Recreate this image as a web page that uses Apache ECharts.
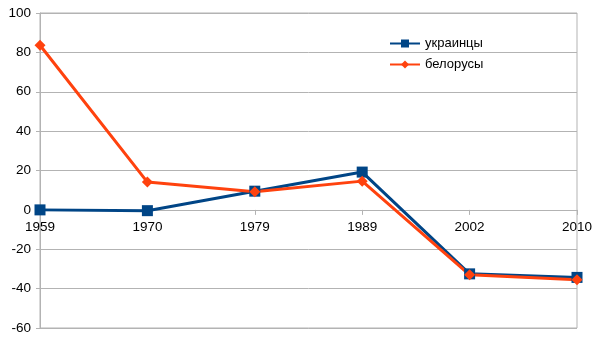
<!DOCTYPE html>
<html><head><meta charset="utf-8">
<script src="https://cdn.jsdelivr.net/npm/echarts@6/dist/echarts.min.js"></script>
<style>html,body{margin:0;padding:0;background:#fff}#c{width:605px;height:340px}</style>
</head><body><div id="c"></div>
<script>
const categories = ['1959','1970','1979','1989','2002','2010'];
const ukrainians = [0, -0.4, 9.5, 19.2, -32.5, -34.3];
const belarusians = [83.6, 14.1, 9.2, 14.6, -33.0, -35.5];
const seriesNames = ['украинцы','белорусы'];
const yMin = -60, yMax = 100, yStep = 20;

const gridTop = 13, gridBottom = 12, chartH = 340;
const plotH = chartH - gridTop - gridBottom;
const zeroOffset = -plotH * (0 - yMin) / (yMax - yMin);

const chart = echarts.init(document.getElementById('c'));
chart.setOption({
  animation: false,
  backgroundColor: '#fff',
  textStyle: {fontFamily: 'Liberation Sans'},
  grid: {left: 40, right: 28, top: gridTop, bottom: gridBottom, outerBoundsMode: 'none', containLabel: false,
         show: true, borderColor: '#b3b3b3', borderWidth: 1, backgroundColor: 'transparent'},
  legend: {
    orient: 'vertical', left: 389, top: 37, padding: 0, itemWidth: 30, itemHeight: 10, itemGap: 8,
    textStyle: {fontSize: 13, color: '#000', fontFamily: 'Liberation Sans'},
    data: seriesNames
  },
  xAxis: {
    type: 'category', data: categories, boundaryGap: false, offset: zeroOffset,
    axisLine: {onZero: false, lineStyle: {color: '#b3b3b3'}},
    axisTick: {show: true, length: 5, lineStyle: {color: '#b3b3b3'}},
    axisLabel: {color: '#000', fontSize: 13.5, margin: 10},
    splitLine: {show: false}
  },
  yAxis: {
    type: 'value', min: yMin, max: yMax, interval: yStep,
    axisLine: {show: true, lineStyle: {color: '#b3b3b3'}},
    axisTick: {show: true, length: 4, lineStyle: {color: '#b3b3b3'}},
    axisLabel: {color: '#000', fontSize: 13.5, margin: 9},
    splitLine: {show: true, lineStyle: {color: '#b3b3b3'}}
  },
  series: [
    {name: seriesNames[0], type: 'line', data: ukrainians, color: '#004586',
     lineStyle: {width: 3}, symbol: 'rect', symbolSize: 11, itemStyle: {color: '#004586'}},
    {name: seriesNames[1], type: 'line', data: belarusians, color: '#ff420e',
     lineStyle: {width: 3}, symbol: 'diamond', symbolSize: 11, itemStyle: {color: '#ff420e'}}
  ]
});
</script></body></html>
